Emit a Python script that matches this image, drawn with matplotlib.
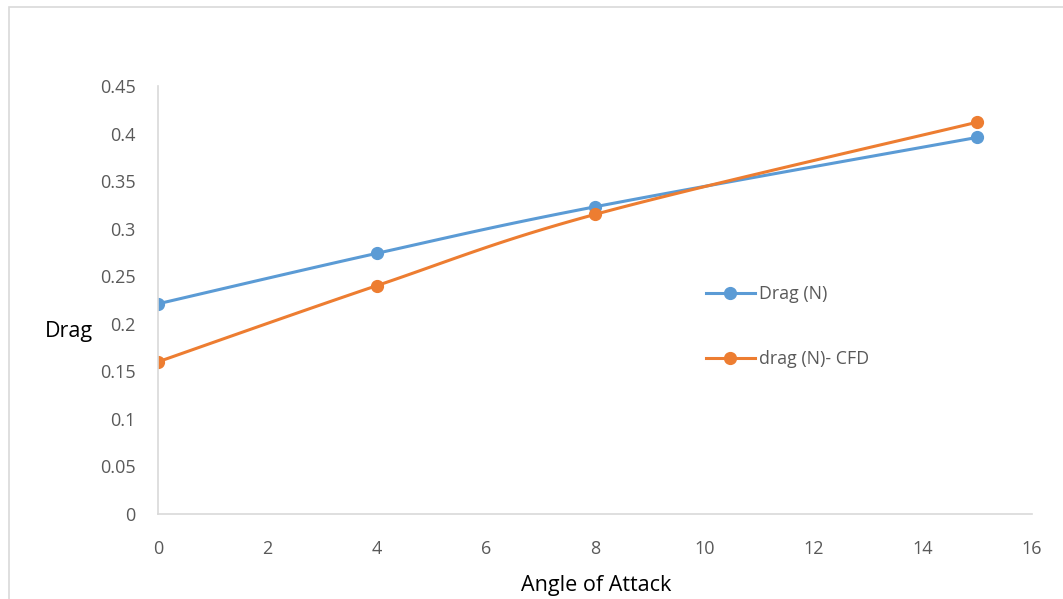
import matplotlib
matplotlib.use("Agg")
import matplotlib.pyplot as plt
import numpy as np

#数据：攻角与阻力
angle = [0, 4, 8, 15]
drag_exp = [0.221, 0.274, 0.323, 0.396]
drag_cfd = [0.160, 0.240, 0.315, 0.412]
y_ticks = [0, 0.05, 0.1, 0.15, 0.2, 0.25, 0.3, 0.35, 0.4, 0.45]
y_tick_labels = ["0", "0.05", "0.1", "0.15", "0.2", "0.25", "0.3", "0.35", "0.4", "0.45"]
x_ticks = [0, 2, 4, 6, 8, 10, 12, 14, 16]

plt.rcParams["font.family"] = ["Open Sans", "DejaVu Sans"]


#类似Excel的平滑曲线（Catmull-Rom样条）
def smooth(x, y, n=40):
    x = np.asarray(x, float)
    y = np.asarray(y, float)
    px = np.concatenate([[x[0]], x, [x[-1]]])
    py = np.concatenate([[y[0]], y, [y[-1]]])
    xs, ys = [], []
    t = np.linspace(0, 1, n)
    for i in range(1, len(px) - 2):
        p0, p1, p2, p3 = [np.array([px[j], py[j]]) for j in range(i - 1, i + 3)]
        # Bezier control points
        c1 = p1 + (p2 - p0) / 6
        c2 = p2 - (p3 - p1) / 6
        b = ((1 - t) ** 3)[:, None] * p1 + (3 * (1 - t) ** 2 * t)[:, None] * c1 \
            + (3 * (1 - t) * t ** 2)[:, None] * c2 + (t ** 3)[:, None] * p2
        xs.extend(b[:, 0])
        ys.extend(b[:, 1])
    return xs, ys


fig = plt.figure(figsize=(10.63, 5.99), dpi=100)
ax = fig.add_axes([158 / 1063, 1 - 514 / 599, (1032 - 158) / 1063, (514 - 86) / 599])

blue = "#5b9bd5"
orange = "#ed7d31"

for vals, color, label in [(drag_exp, blue, "Drag (N)"), (drag_cfd, orange, "drag (N)- CFD")]:
    sx, sy = smooth(angle, vals)
    ax.plot(sx, sy, color=color, linewidth=2.2, solid_capstyle="round")
    ax.plot(angle, vals, linestyle="None", marker="o", markersize=8.5, color=color)
    ax.plot([], [], color=color, linewidth=2.2, marker="o", markersize=8.5, label=label)

ax.set_xlim(0, 16)
ax.set_ylim(0, 0.45)
ax.set_xticks(x_ticks)
ax.set_yticks(y_ticks)
ax.set_yticklabels(y_tick_labels)
ax.tick_params(length=0, labelsize=13, colors="#595959")
ax.tick_params(axis="x", pad=19)
ax.tick_params(axis="y", pad=16)

for side in ["top", "right"]:
    ax.spines[side].set_visible(False)
for side in ["left", "bottom"]:
    ax.spines[side].set_color("#d9d9d9")
    ax.spines[side].set_linewidth(1.2)

fig.text(69 / 1063, 1 - 332 / 599, "Drag", fontsize=15.5, color="black", ha="center", va="center")
fig.text(596 / 1063, 1 - 586 / 599, "Angle of Attack", fontsize=15.5, color="black", ha="center", va="center")

leg = ax.legend(loc="upper left", bbox_to_anchor=(690 / 1063, 1 - 269 / 599), bbox_transform=fig.transFigure,
                frameon=False, fontsize=12.8, labelspacing=2.65, handlelength=2.75, handletextpad=0.25,
                labelcolor="#595959")

#外框
fig.patches.append(plt.Rectangle((9 / 1063, -0.01), 1.0, 1 - 7 / 599 + 0.01, transform=fig.transFigure,
                                 fill=False, edgecolor="#d9d9d9", linewidth=1.2))

fig.savefig("out.png", dpi=100)
